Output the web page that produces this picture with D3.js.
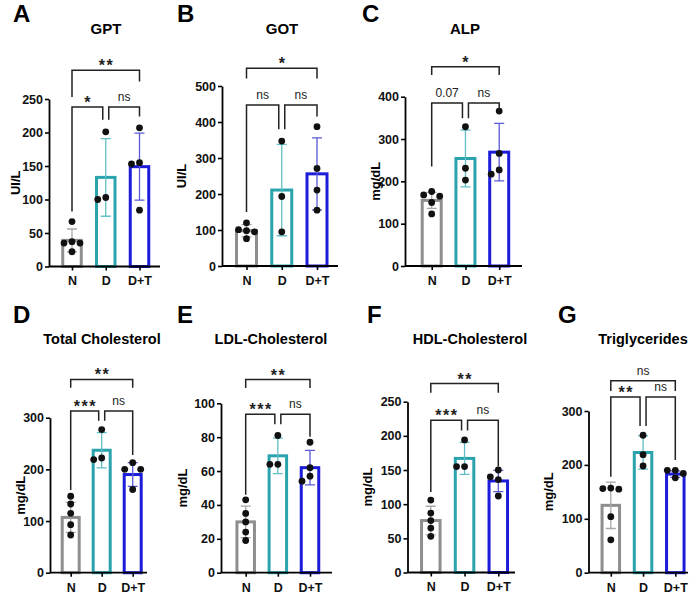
<!DOCTYPE html>
<html>
<head>
<meta charset="utf-8">
<script src="https://cdn.jsdelivr.net/npm/d3@7"></script>
<style>
  body { margin: 0; background: #fff; }
  svg { display: block; font-family: Arial, "Liberation Sans", sans-serif; }
</style>
</head>
<body>
<svg id="fig" width="700" height="597"></svg>
<script>
// ---- data ----
const groups = ['N', 'D', 'D+T'];
const letters = ['A', 'B', 'C', 'D', 'E', 'F', 'G'];
const titles = ['GPT', 'GOT', 'ALP', 'Total Cholesterol', 'LDL-Cholesterol', 'HDL-Cholesterol', 'Triglycerides'];
const units = ['UI/L', 'UI/L', 'mg/dL', 'mg/dL', 'mg/dL', 'mg/dL', 'mg/dL'];
const yMax = [250, 500, 400, 300, 100, 250, 300];
const yStep = [50, 100, 100, 100, 20, 50, 100];

const means = [
  [39, 133, 149],
  [98, 211, 256],
  [155, 254, 269],
  [107, 237, 190],
  [30, 69, 62],
  [76, 167, 134],
  [125, 223, 183]
];
const sds = [
  [17, 58, 50],
  [17, 127, 100],
  [19, 67, 68],
  [29, 34, 23],
  [9.3, 10.5, 10.2],
  [21, 23.5, 15.5],
  [43, 31, 6]
];
const points = [
  [[67, 37, 35, 35, 22], [201, 100, 103], [207, 155, 153, 84]],
  [[120, 101, 98, 95, 76], [347, 193, 95], [387, 271, 211, 155]],
  [[176, 168, 165, 150, 123], [329, 231, 203], [366, 266, 227, 217]],
  [[148, 133, 115, 93, 73], [277, 219, 222], [213, 200, 200, 161]],
  [[43, 35, 30, 24, 19], [81, 64, 64], [77, 62, 57, 54]],
  [[106, 87, 76, 65, 53], [194, 155, 155], [150, 140, 136, 112]],
  [[157, 156, 155, 104, 61], [255, 219, 198], [190, 190, 184, 176]]
];
// [from, to, label, bracket level, left leg end, right leg end] in data units
const brackets = [
  [['N', 'D+T', '**', 293, 253, 276], ['N', 'D', '*', 238, 82, 219], ['D', 'D+T', 'ns', 238, 219, 224]],
  [['N', 'D+T', '*', 549, 521, 521], ['N', 'D', 'ns', 447, 150, 380], ['D', 'D+T', 'ns', 447, 380, 415]],
  [['N', 'D+T', '*', 471, 451, 451], ['N', 'D', '0.07', 385, 235, 349], ['D', 'D+T', 'ns', 385, 349, 369]],
  [['N', 'D+T', '**', 374, 358, 358], ['N', 'D', '***', 313, 160, 294], ['D', 'D+T', 'ns', 313, 294, 228]],
  [['N', 'D+T', '**', 114, 109, 109], ['N', 'D', '***', 93.6, 46, 87.7], ['D', 'D+T', 'ns', 93.6, 87.7, 80.3]],
  [['N', 'D+T', '**', 276.6, 263, 263], ['N', 'D', '***', 223, 118, 208], ['D', 'D+T', 'ns', 223, 208, 155]],
  [['N', 'D+T', 'ns', 356, 337, 337], ['N', 'D', '**', 326, 178, 272], ['D', 'D+T', 'ns', 326, 272, 209]]
];

// ---- layout ----
const layout = [
  { ax: 49,    c0: 72,    c2: 139.5, xEnd: 160, y0: 266.5, yTop: 99,    lx: 13,  ly: 22,  tx: 106, ty: 33.5, ux: 15,  bw: 18.5 },
  { ax: 222,   c0: 246.5, c2: 317,   xEnd: 338, y0: 266,   yTop: 86,    lx: 177, ly: 22,  tx: 282, ty: 33.5, ux: 181, bw: 20 },
  { ax: 405,   c0: 431.7, c2: 499.2, xEnd: 522, y0: 266,   yTop: 96.7,  lx: 362, ly: 22,  tx: 465, ty: 33.5, ux: 375, bw: 19 },
  { ax: 50,    c0: 70.7,  c2: 132.7, xEnd: 147, y0: 572.7, yTop: 417.7, lx: 13,  ly: 323, tx: 102, ty: 344,  ux: 20,  bw: 17 },
  { ax: 221,   c0: 245.7, c2: 310,   xEnd: 332, y0: 572.7, yTop: 403.3, lx: 177, ly: 323, tx: 271, ty: 344,  ux: 182, bw: 17.5 },
  { ax: 407.5, c0: 430.8, c2: 498.3, xEnd: 515, y0: 572.5, yTop: 401.7, lx: 367, ly: 323, tx: 470, ty: 344,  ux: 367, bw: 18.5 },
  { ax: 588.5, c0: 610.8, c2: 675.3, xEnd: 688, y0: 572.7, yTop: 411,   lx: 558, ly: 323, tx: 643, ty: 344,  ux: 548, bw: 17.5 }
];
const titleSize = [15, 15, 15, 14.5, 14.5, 14.5, 14.5];

const barColor = d3.scaleOrdinal(groups, ['#8e8e8e', '#2aa3ad', '#1c1cd9']);
const errColor = d3.scaleOrdinal(groups, ['#a8a8a8', '#62bec6', '#5a5ad8']);
const dotR = 3.4, dotStep = 8;

const svg = d3.select('#fig');

// simple beeswarm so overlapping dots sit side by side
function swarm(vals, y, cx) {
  const placed = [];
  vals.slice().sort((a, b) => b - a).forEach(v => {
    const py = y(v);
    for (let k = 0; k < 12; k++) {
      const off = k === 0 ? 0 : (k % 2 ? -1 : 1) * Math.ceil(k / 2) * dotStep;
      if (placed.every(p => Math.hypot(p.x - (cx + off), p.y - py) >= 2 * dotR + 0.5)) {
        placed.push({ x: cx + off, y: py });
        break;
      }
    }
  });
  return placed;
}

letters.forEach((letter, i) => {
  const L = layout[i];
  const g = svg.append('g');
  const x = d3.scalePoint().domain(groups).range([L.c0, L.c2]);
  const y = d3.scaleLinear().domain([0, yMax[i]]).range([L.y0, L.yTop]);

  // panel letter + title
  g.append('text').attr('x', L.lx).attr('y', L.ly)
    .attr('font-size', 24).attr('font-weight', 'bold').text(letter);
  g.append('text').attr('x', L.tx).attr('y', L.ty).attr('text-anchor', 'middle')
    .attr('font-size', titleSize[i]).attr('font-weight', 'bold').text(titles[i]);

  // y axis
  const yAxis = g.append('g').attr('transform', `translate(${L.ax},0)`)
    .call(d3.axisLeft(y)
      .tickValues(d3.range(0, yMax[i] + yStep[i] / 2, yStep[i]))
      .tickSize(4).tickSizeOuter(0).tickPadding(2));
  yAxis.select('.domain').attr('stroke-width', 1.8);
  yAxis.selectAll('.tick line').attr('stroke-width', 1.6);
  yAxis.selectAll('text').attr('font-size', 12.5).attr('font-weight', 'bold')
    .attr('font-family', 'Arial, "Liberation Sans", sans-serif').attr('fill', '#111');

  g.append('text')
    .attr('transform', `translate(${L.ux},${(L.y0 + L.yTop) / 2}) rotate(-90)`)
    .attr('text-anchor', 'middle').attr('dy', '0.35em')
    .attr('font-size', 13).attr('font-weight', 'bold').text(units[i]);

  // bars
  const rows = groups.map((k, j) => ({ k, m: means[i][j], sd: sds[i][j], pts: points[i][j] }));
  g.selectAll('rect.bar').data(rows).join('rect').attr('class', 'bar')
    .attr('x', d => x(d.k) - L.bw / 2)
    .attr('y', d => y(d.m))
    .attr('width', L.bw)
    .attr('height', d => L.y0 - y(d.m))
    .attr('fill', '#fff')
    .attr('stroke', d => barColor(d.k))
    .attr('stroke-width', 3);

  // error bars (mean ± SD)
  const eb = g.selectAll('g.err').data(rows).join('g').attr('class', 'err')
    .attr('stroke', d => errColor(d.k)).attr('stroke-width', 1.3).attr('fill', 'none');
  eb.append('path').attr('d', d => {
    const cx = x(d.k), hi = y(d.m + d.sd), lo = y(Math.max(0, d.m - d.sd)), c = 5;
    return `M${cx},${lo}V${hi}M${cx - c},${hi}H${cx + c}M${cx - c},${lo}H${cx + c}`;
  });

  // x axis
  g.append('line').attr('x1', L.ax).attr('x2', L.xEnd).attr('y1', L.y0).attr('y2', L.y0)
    .attr('stroke', '#000').attr('stroke-width', 1.8);
  const xAxis = g.append('g').attr('transform', `translate(0,${L.y0})`)
    .call(d3.axisBottom(x).tickSize(4).tickPadding(6));
  xAxis.select('.domain').remove();
  xAxis.selectAll('.tick line').attr('stroke-width', 1.6);
  xAxis.selectAll('text').attr('font-size', 12.5).attr('font-weight', 'bold')
    .attr('font-family', 'Arial, "Liberation Sans", sans-serif').attr('fill', '#111');

  // individual points
  rows.forEach(d => {
    g.append('g').selectAll('circle').data(swarm(d.pts, y, x(d.k))).join('circle')
      .attr('cx', p => p.x).attr('cy', p => p.y).attr('r', dotR).attr('fill', '#111');
  });

  // significance brackets
  brackets[i].forEach(([a, b, lab, lv, legA, legB]) => {
    const xa = x(a) + (a === 'D' ? 3 : 0);
    const xb = x(b) - (b === 'D' ? 3 : 0);
    const yl = y(lv);
    g.append('path')
      .attr('d', `M${xa},${y(legA)}V${yl}H${xb}V${y(legB)}`)
      .attr('fill', 'none').attr('stroke', '#222').attr('stroke-width', 1.5);
    const isStar = lab.startsWith('*');
    g.append('text')
      .attr('x', (xa + xb) / 2 + (isStar ? 0.75 : 0))
      .attr('y', isStar ? yl + 1 : yl - 6)
      .attr('text-anchor', 'middle')
      .attr('font-size', isStar ? 16 : 12)
      .attr('font-weight', isStar ? 'bold' : 'normal')
      .attr('letter-spacing', isStar ? 1.5 : 0)
      .attr('fill', '#222')
      .text(lab);
  });
});
</script>
</body>
</html>
